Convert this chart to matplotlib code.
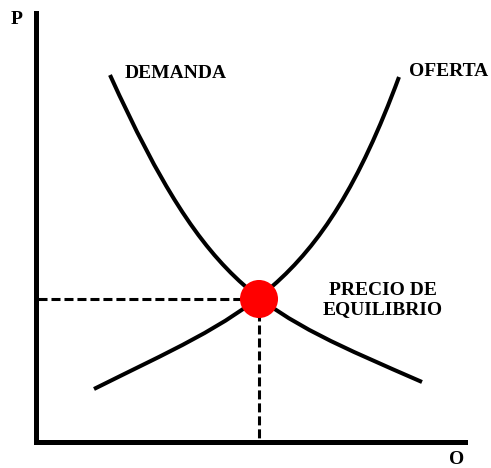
import numpy as np
import matplotlib.pyplot as plt
from matplotlib.path import Path
from matplotlib.patches import PathPatch

H = 468

# curve end points and bezier control points
# (pixel x, pixel y from top)
demanda_x = [110, 210, 262, 422]
demanda_y = [75, 295, 312, 382]
oferta_x = [94, 244, 319, 399]
oferta_y = [389, 314, 293, 77]
eq_x, eq_y = 259, 299


def flip(y):
    return H - np.array(y)


def curve(ax, xs, ys):
    verts = list(zip(xs, flip(ys)))
    codes = [Path.MOVETO, Path.CURVE4, Path.CURVE4, Path.CURVE4]
    ax.add_patch(PathPatch(Path(verts, codes), facecolor='none',
                           edgecolor='black', linewidth=2.9,
                           capstyle='butt'))


fig = plt.figure(figsize=(4.91, 4.68), dpi=100)
ax = fig.add_axes([0, 0, 1, 1])
ax.set_xlim(0, 491)
ax.set_ylim(0, H)
ax.axis('off')

# axes
ax.plot([36, 36, 465], flip([13, 442, 442]), color='black', linewidth=3.6,
        solid_joinstyle='miter')

# dashed guides
ax.plot([38, eq_x], flip([eq_y, eq_y]), color='black', linewidth=2.2,
        linestyle=(0, (2.95, 1.3)))
ax.plot([eq_x, eq_x], flip([eq_y, 440]), color='black', linewidth=2.2,
        linestyle=(0, (2.95, 1.3)))

# curves
curve(ax, demanda_x, demanda_y)
curve(ax, oferta_x, oferta_y)

# equilibrium point
ax.scatter([eq_x], flip([eq_y]), s=750, color='#ff0000', zorder=5,
           edgecolors='none')

font = dict(family='Liberation Serif', weight='bold', fontsize=14)
ax.text(125, H - 73, 'DEMANDA', ha='left', va='center', **font)
ax.text(409, H - 72, 'OFERTA', ha='left', va='center', **font)
ax.text(17, H - 20, 'P', ha='center', va='center', **font)
ax.text(457, H - 460, 'O', ha='center', va='center', **font)
ax.text(383, H - 300, 'PRECIO DE\nEQUILIBRIO', ha='center', va='center',
        linespacing=1.2, **font)

fig.savefig('out.png', dpi=100)
